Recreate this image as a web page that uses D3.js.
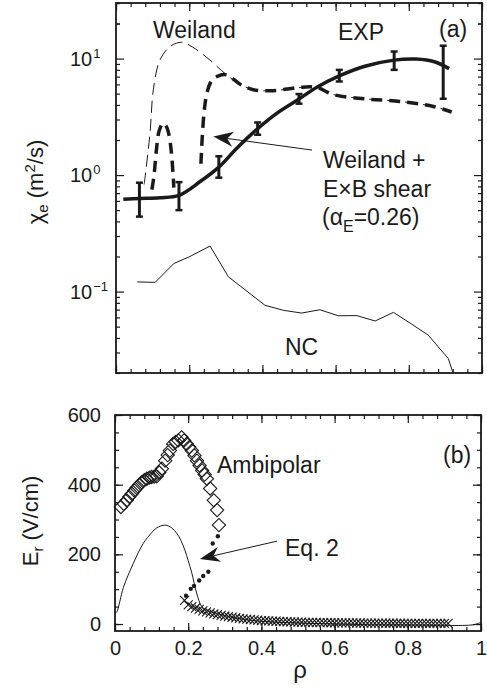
<!DOCTYPE html>
<html>
<head>
<meta charset="utf-8">
<script src="https://cdn.jsdelivr.net/npm/d3@7"></script>
<style>
  body { margin: 0; background: #fff; }
  svg { display: block; font-family: "Liberation Sans", Arial, sans-serif; }
  text { fill: #1a1a1a; }
</style>
</head>
<body>
<svg width="487" height="691"></svg>
<script>
// ---- panel (a): chi_e vs rho (log scale) ----
const expRho = [0.064, 0.172, 0.281, 0.387, 0.5, 0.61, 0.76, 0.894];
const expVal = [0.64, 0.66, 1.17, 2.51, 4.52, 7.1, 9.65, 8.3];
const expLo = [0.44, 0.50, 0.95, 2.22, 4.1, 6.36, 8.0, 4.52];
const expHi = [0.86, 0.87, 1.45, 2.83, 4.96, 8.0, 11.5, 12.9];

const fitRho = [0.02, 0.064, 0.12, 0.172, 0.23, 0.281, 0.33, 0.387, 0.44, 0.5, 0.55, 0.61, 0.68, 0.76, 0.82, 0.87, 0.91];
const fitVal = [0.62, 0.63, 0.64, 0.67, 0.88, 1.17, 1.7, 2.5, 3.4, 4.5, 5.7, 7.1, 8.6, 9.7, 9.9, 9.4, 8.2];

const weiRho = [0.077, 0.093, 0.102, 0.12, 0.148, 0.179, 0.21, 0.257, 0.302, 0.34, 0.375, 0.43, 0.5, 0.548, 0.595, 0.685, 0.776, 0.867, 0.917];
const weiVal = [0.83, 2.3, 5.4, 9.7, 12.7, 13.8, 12.5, 9.7, 7.25, 6.0, 5.4, 5.3, 5.65, 5.65, 4.9, 4.5, 4.29, 3.88, 3.48];

// Weiland + ExB shear: two pieces
const shear1Rho = [0.098, 0.104, 0.11, 0.118, 0.129, 0.138, 0.145, 0.151, 0.156, 0.158];
const shear1Val = [0.75, 1.0, 1.6, 2.4, 2.8, 2.6, 2.2, 1.6, 1.0, 0.78];
const shear2Rho = [0.232, 0.236, 0.242, 0.25, 0.262, 0.28, 0.302, 0.34, 0.375, 0.43, 0.5, 0.548, 0.595, 0.685, 0.776, 0.867, 0.917];
const shear2Val = [1.25, 2.2, 3.8, 5.3, 6.5, 7.1, 7.25, 6.0, 5.4, 5.3, 5.65, 5.65, 4.9, 4.5, 4.29, 3.88, 3.48];

const ncRho = [0.058, 0.107, 0.158, 0.202, 0.257, 0.307, 0.407, 0.457, 0.507, 0.557, 0.607, 0.658, 0.708, 0.758, 0.808, 0.853, 0.908, 0.92];
const ncVal = [0.121, 0.120, 0.174, 0.20, 0.246, 0.134, 0.0763, 0.0691, 0.0654, 0.0698, 0.062, 0.0622, 0.0559, 0.0663, 0.0525, 0.0423, 0.0266, 0.0204];

// ---- panel (b): E_r vs rho ----
const ambRho = [0.016, 0.024, 0.032, 0.039, 0.046, 0.053, 0.059, 0.066, 0.073, 0.080, 0.087, 0.094, 0.100, 0.107, 0.114, 0.121, 0.128, 0.137, 0.144, 0.150, 0.159, 0.166, 0.173, 0.182, 0.189, 0.196, 0.203, 0.21, 0.217, 0.224, 0.231, 0.238, 0.245, 0.251, 0.26, 0.27, 0.279, 0.284];
const ambVal = [336, 345, 355, 365, 374, 383, 391, 399, 407, 413, 417, 420, 422, 423, 424, 435, 446, 469, 485, 498, 517, 523, 527, 536, 527, 517, 508, 498, 484, 469, 455, 441, 429, 417, 389, 355, 327, 284];

const eq2Rho = [0.194, 0.207, 0.216, 0.230, 0.241, 0.255, 0.267, 0.281];
const eq2Val = [81, 101, 109, 125, 138, 150, 231, 252];

const crossRho = [0.19, 0.20, 0.21, 0.22, 0.23, 0.24, 0.25, 0.26, 0.27, 0.28, 0.29, 0.30, 0.31, 0.32, 0.33, 0.34, 0.35, 0.36, 0.37, 0.38, 0.39, 0.40,
  0.41, 0.42, 0.43, 0.44, 0.45, 0.46, 0.47, 0.48, 0.49, 0.50, 0.51, 0.52, 0.53, 0.54, 0.55, 0.56, 0.57, 0.58, 0.59, 0.60,
  0.61, 0.62, 0.63, 0.64, 0.65, 0.66, 0.67, 0.68, 0.69, 0.70, 0.71, 0.72, 0.73, 0.74, 0.75, 0.76, 0.77, 0.78, 0.79, 0.80,
  0.81, 0.82, 0.83, 0.84, 0.85, 0.86, 0.87, 0.88, 0.89, 0.90, 0.91];
const crossVal = [68, 55, 50, 46, 42, 38, 35, 32, 29, 27, 25, 23, 21, 19.5, 18, 16.5, 15, 14, 13, 12, 11, 10,
  9.5, 9, 8.5, 8, 7.5, 7, 6.6, 6.2, 5.8, 5.5, 5.2, 5, 4.8, 4.6, 4.4, 4.2, 4, 3.8, 3.7, 3.6,
  3.5, 3.4, 3.3, 3.2, 3.1, 3, 2.9, 2.8, 2.7, 2.6, 2.5, 2.5, 2.4, 2.4, 2.3, 2.3, 2.2, 2.2, 2.1, 2.1,
  2, 2, 2, 1.9, 1.9, 1.9, 1.8, 1.8, 1.8, 1.7, 1.7];

const lineRho = [0, 0.005, 0.023, 0.05, 0.077, 0.1, 0.114, 0.137, 0.155, 0.169, 0.18, 0.191, 0.2, 0.21, 0.223, 0.237, 0.25, 0.26, 0.3, 0.35, 0.4, 0.5, 0.6, 0.7, 0.8, 0.9, 0.95, 0.98, 1.0];
const lineVal = [30, 35, 105, 174, 231, 262, 276, 284, 276, 260, 240, 212, 182, 146, 89, 50, 40, 36, 24, 14, 8, 3, 0, -2, -3, -4, -4, -2, 5];

const xTicks = [0, 0.2, 0.4, 0.6, 0.8, 1];
const yTicksB = [0, 200, 400, 600];
const yTicksA = [0.1, 1, 10];
const yTickExp = ['\u22121', '0', '1'];

const svg = d3.select('svg');

const xA = d3.scaleLinear().domain([0, 1]).range([116, 482]);
const yA = d3.scaleLog().domain([0.02, 30]).range([373, 3]);
const xB = d3.scaleLinear().domain([0, 1]).range([115, 481]);
const yB = d3.scaleLinear().domain([-20, 600]).range([631, 415]);

const ink = '#1a1a1a';
const xMinor = d3.range(0, 1.001, 0.04).map(v => +v.toFixed(2));

function frame(x, y) {
    const [x0, x1] = x.range();
    const [y0, y1] = y.range();
    const g = svg.append('g');
    const noDomain = s => s.select('.domain').remove();
    // x ticks bottom/top
    g.append('g').attr('transform', `translate(0,${y0})`)
        .call(d3.axisBottom(x).tickValues(xTicks).tickSize(-8).tickFormat('')).call(noDomain);
    g.append('g').attr('transform', `translate(0,${y0})`)
        .call(d3.axisBottom(x).tickValues(xMinor).tickSize(-4).tickFormat('')).call(noDomain);
    g.append('g').attr('transform', `translate(0,${y1})`)
        .call(d3.axisTop(x).tickValues(xTicks).tickSize(-8).tickFormat('')).call(noDomain);
    g.append('g').attr('transform', `translate(0,${y1})`)
        .call(d3.axisTop(x).tickValues(xMinor).tickSize(-4).tickFormat('')).call(noDomain);
    g.append('rect')
        .attr('x', x0).attr('y', y1).attr('width', x1 - x0).attr('height', y0 - y1)
        .attr('fill', 'none').attr('stroke', ink).attr('stroke-width', 1.8);
    g.selectAll('line').attr('stroke', ink).attr('stroke-width', 1.2);
    return g;
}

// ---------- panel (a) ----------
const gA = frame(xA, yA);
const logMinor = [];
[0.01, 0.1, 1, 10].forEach(d => { for (let k = 2; k <= 9; k++) { const v = d * k; if (v >= 0.02 && v <= 30) logMinor.push(v); } });
logMinor.push(20, 30);
[[d3.axisLeft, xA.range()[0]], [d3.axisRight, xA.range()[1]]].forEach(([ax, pos]) => {
    gA.append('g').attr('transform', `translate(${pos},0)`)
        .call(ax(yA).tickValues(yTicksA).tickSize(-8).tickFormat(''))
        .call(s => s.select('.domain').remove());
    gA.append('g').attr('transform', `translate(${pos},0)`)
        .call(ax(yA).tickValues(logMinor).tickSize(-4).tickFormat(''))
        .call(s => s.select('.domain').remove());
});
gA.selectAll('line').attr('stroke', ink).attr('stroke-width', 1.2);

yTicksA.forEach((v, i) => {
    const t = svg.append('text').attr('x', 70).attr('y', yA(v) + 7).attr('font-size', 20);
    t.append('tspan').text('10');
    t.append('tspan').attr('dy', -8).attr('dx', 1).attr('font-size', 13).text(yTickExp[i]);
});

const lineA = d3.line().x(d => xA(d[0])).y(d => yA(d[1])).curve(d3.curveCatmullRom.alpha(0.5));
const linA = d3.line().x(d => xA(d[0])).y(d => yA(d[1]));

// NC
svg.append('path').attr('d', linA(d3.zip(ncRho, ncVal)))
    .attr('fill', 'none').attr('stroke', ink).attr('stroke-width', 1);
// Weiland (thin dashed)
svg.append('path').attr('d', lineA(d3.zip(weiRho, weiVal)))
    .attr('fill', 'none').attr('stroke', ink).attr('stroke-width', 1).attr('stroke-dasharray', '12,6');
// Weiland + ExB (thick dashed)
[[shear1Rho, shear1Val], [shear2Rho, shear2Val]].forEach(([r, v]) => {
    svg.append('path').attr('d', lineA(d3.zip(r, v)))
        .attr('fill', 'none').attr('stroke', ink).attr('stroke-width', 3.5).attr('stroke-dasharray', '11,7');
});
// EXP fit
svg.append('path').attr('d', lineA(d3.zip(fitRho, fitVal)))
    .attr('fill', 'none').attr('stroke', ink).attr('stroke-width', 3.5);
// EXP error bars
const eb = svg.append('g').attr('stroke', ink);
expRho.forEach((r, i) => {
    eb.append('line').attr('x1', xA(r)).attr('x2', xA(r)).attr('y1', yA(expLo[i])).attr('y2', yA(expHi[i])).attr('stroke-width', 3);
    [expLo[i], expHi[i]].forEach(v => {
        eb.append('line').attr('x1', xA(r) - 3.5).attr('x2', xA(r) + 3.5).attr('y1', yA(v)).attr('y2', yA(v)).attr('stroke-width', 2.5);
    });
});

function arrow(x1, y1, x2, y2) {
    const a = Math.atan2(y2 - y1, x2 - x1);
    const len = 20, half = 7.5, notch = 14;
    const p = (d, o) => [x2 - d * Math.cos(a) - o * Math.sin(a), y2 - d * Math.sin(a) + o * Math.cos(a)];
    svg.append('line').attr('x1', x1).attr('y1', y1).attr('x2', p(notch, 0)[0]).attr('y2', p(notch, 0)[1])
        .attr('stroke', ink).attr('stroke-width', 1);
    svg.append('path').attr('d', 'M' + [[x2, y2], p(len, half), p(notch, 0), p(len, -half)].join('L') + 'Z')
        .attr('fill', ink);
}
arrow(xA(0.5355), yA(1.64), xA(0.266), yA(2.14));

function label(x, y, str, size) {
    return svg.append('text').attr('x', x).attr('y', y).attr('font-size', size || 23).text(str);
}
label(153, 38, 'Weiland');
label(338, 40, 'EXP');
label(439, 37, '(a)');
label(323, 168, 'Weiland +');
label(323, 197, 'E\u00d7B shear');
const al = svg.append('text').attr('x', 322).attr('y', 225).attr('font-size', 23);
al.append('tspan').text('(\u03b1');
al.append('tspan').attr('dy', 7).attr('font-size', 16).text('E');
al.append('tspan').attr('dy', -7).text('=0.26)');
label(285, 355, 'NC');

const yl = svg.append('text').attr('transform', 'translate(43,182) rotate(-90)')
    .attr('text-anchor', 'middle').attr('font-size', 22);
yl.append('tspan').text('\u03c7');
yl.append('tspan').attr('dy', 5).attr('font-size', 15).text('e');
yl.append('tspan').attr('dy', -5).text(' (m');
yl.append('tspan').attr('dy', -8).attr('font-size', 15).text('2');
yl.append('tspan').attr('dy', 8).text('/s)');

// ---------- panel (b) ----------
const gB = frame(xB, yB);
const yMinorB = d3.range(-0, 601, 50);
[[d3.axisLeft, xB.range()[0]], [d3.axisRight, xB.range()[1]]].forEach(([ax, pos]) => {
    gB.append('g').attr('transform', `translate(${pos},0)`)
        .call(ax(yB).tickValues(yTicksB).tickSize(-8).tickFormat(''))
        .call(s => s.select('.domain').remove());
    gB.append('g').attr('transform', `translate(${pos},0)`)
        .call(ax(yB).tickValues(yMinorB).tickSize(-4).tickFormat(''))
        .call(s => s.select('.domain').remove());
});
gB.selectAll('line').attr('stroke', ink).attr('stroke-width', 1.2);

// tick labels for (b)
const axL = svg.append('g').attr('transform', `translate(${xB.range()[0]},0)`)
    .call(d3.axisLeft(yB).tickValues(yTicksB).tickSize(0).tickPadding(14));
axL.select('.domain').remove();
axL.selectAll('text').attr('font-size', 20).attr('font-family', null).attr('fill', ink);
const axX = svg.append('g').attr('transform', `translate(0,${yB.range()[0]})`)
    .call(d3.axisBottom(xB).tickValues(xTicks).tickSize(0).tickPadding(10)
        .tickFormat(d => (d === 0 || d === 1) ? String(d) : d.toFixed(1)));
axX.select('.domain').remove();
axX.selectAll('text').attr('font-size', 20).attr('font-family', null).attr('fill', ink);

const lineB = d3.line().x(d => xB(d[0])).y(d => yB(d[1])).curve(d3.curveCatmullRom.alpha(0.5));
svg.append('path').attr('d', lineB(d3.zip(lineRho, lineVal)))
    .attr('fill', 'none').attr('stroke', ink).attr('stroke-width', 1);

const crossSym = d3.symbol(d3.symbolX, 55);
svg.append('g').selectAll('path').data(d3.zip(crossRho, crossVal)).join('path')
    .attr('transform', d => `translate(${xB(d[0])},${yB(d[1])})`)
    .attr('d', crossSym).attr('fill', 'none').attr('stroke', ink).attr('stroke-width', 1.1);

svg.append('g').selectAll('circle').data(d3.zip(eq2Rho, eq2Val)).join('circle')
    .attr('cx', d => xB(d[0])).attr('cy', d => yB(d[1])).attr('r', 2.2).attr('fill', ink);

const diamondSym = d3.symbol(d3.symbolSquare, 88);
svg.append('g').selectAll('path').data(d3.zip(ambRho, ambVal)).join('path')
    .attr('transform', d => `translate(${xB(d[0])},${yB(d[1])}) rotate(45)`)
    .attr('d', diamondSym).attr('fill', 'none').attr('stroke', ink).attr('stroke-width', 1.1);

arrow(xB(0.443), yB(238), xB(0.232), yB(187));

label(217, 473, 'Ambipolar');
label(443, 463, '(b)');
label(285, 556, 'Eq. 2');
label(300, 678, '\u03c1', 24).attr('text-anchor', 'middle');

const el = svg.append('text').attr('transform', 'translate(38,521) rotate(-90)')
    .attr('text-anchor', 'middle').attr('font-size', 22);
el.append('tspan').text('E');
el.append('tspan').attr('dy', 5).attr('font-size', 15).text('r');
el.append('tspan').attr('dy', -5).text(' (V/cm)');
</script>
</body>
</html>
